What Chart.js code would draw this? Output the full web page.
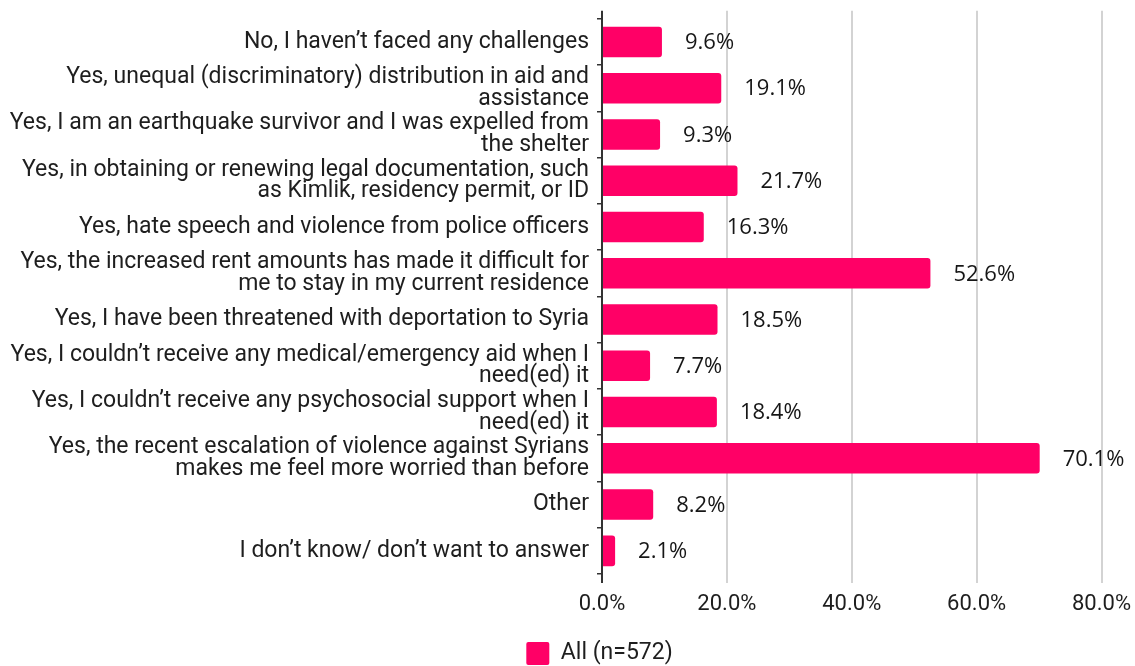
<!DOCTYPE html>
<html>
<head>
<meta charset="utf-8">
<script src="https://cdn.jsdelivr.net/npm/chart.js@4/dist/chart.umd.min.js"></script>
<style>
  html, body { margin: 0; padding: 0; background: #ffffff; }
  #wrap { width: 1135px; height: 666px; position: relative; }
</style>
</head>
<body>
<div id="wrap"><canvas id="chart" width="1135" height="666"></canvas></div>
<script>
// Survey answers (multi-line where the label wraps)
const categories = [
  "No, I haven\u2019t faced any challenges",
  ["Yes, unequal (discriminatory) distribution in aid and", "assistance"],
  ["Yes, I am an earthquake survivor and I was expelled from", "the shelter"],
  ["Yes, in obtaining or renewing legal documentation, such", "as Kimlik, residency permit, or ID"],
  "Yes, hate speech and violence from police officers",
  ["Yes, the increased rent amounts has made it difficult for", "me to stay in my current residence"],
  "Yes, I have been threatened with deportation to Syria",
  ["Yes, I couldn\u2019t receive any medical/emergency aid when I", "need(ed) it"],
  ["Yes, I couldn\u2019t receive any psychosocial support when I", "need(ed) it"],
  ["Yes, the recent escalation of violence against Syrians", "makes me feel more worried than before"],
  "Other",
  "I don\u2019t know/ don\u2019t want to answer"
];

// Share of respondents, percent
const allValues = [9.6, 19.1, 9.3, 21.7, 16.3, 52.6, 18.5, 7.7, 18.4, 70.1, 8.2, 2.1];

const seriesName = "All (n=572)";
const xTicks = [0, 20, 40, 60, 80];

const PINK = "#ff0066";
const GRID = "#d3d3d3";
const AXIS = "#333333";
const TEXT = "#1e1e1e";

// Value labels to the right of each bar
const valueLabels = {
  id: "valueLabels",
  afterDatasetsDraw(chart) {
    const { ctx } = chart;
    const meta = chart.getDatasetMeta(0);
    ctx.save();
    ctx.font = "22px 'Open Sans'";
    ctx.fillStyle = "#161616";
    ctx.textAlign = "left";
    ctx.textBaseline = "middle";
    meta.data.forEach((bar, i) => {
      ctx.fillText(allValues[i].toFixed(1) + "%", bar.x + 23, bar.y + 1);
    });
    ctx.restore();
  }
};

// Legend sits centred under the value axis origin, close to the bottom edge
const legendShift = {
  id: "legendShift",
  afterLayout(chart) {
    const lg = chart.legend;
    if (lg) {
      lg.left += 33; lg.right += 33;
      lg.top += 9; lg.bottom += 9;
    }
  }
};

const gridColor = (c) => (c.tick && c.tick.value === 0 ? AXIS : GRID);

new Chart(document.getElementById("chart"), {
  type: "bar",
  data: {
    labels: categories,
    datasets: [{
      label: seriesName,
      data: allValues,
      backgroundColor: PINK,
      borderWidth: 0,
      borderRadius: 3,
      borderSkipped: "start",
      categoryPercentage: 1,
      barPercentage: 0.66
    }]
  },
  options: {
    indexAxis: "y",
    responsive: false,
    animation: false,
    devicePixelRatio: 1,
    layout: { padding: { top: 9, right: 2, left: 0, bottom: 0 } },
    scales: {
      x: {
        position: "bottom",
        min: 0,
        max: 80,
        afterBuildTicks: (s) => { s.ticks = xTicks.map(v => ({ value: v })); },
        afterFit: (s) => { s.height = 57; s.paddingRight = 33.5; },
        ticks: {
          callback: (v) => v.toFixed(1) + "%",
          color: TEXT,
          font: { family: "Roboto", size: 22 },
          padding: 8
        },
        grid: { color: gridColor, lineWidth: 2, tickLength: 9, tickColor: gridColor },
        border: { display: false }
      },
      xTop: {
        axis: "x",
        position: "top",
        min: 0,
        max: 80,
        afterBuildTicks: (s) => { s.ticks = xTicks.map(v => ({ value: v })); },
        ticks: { display: false },
        grid: { drawOnChartArea: false, color: gridColor, lineWidth: 2, tickLength: 8, tickColor: gridColor },
        border: { display: false }
      },
      y: {
        afterFit: (s) => { s.width = 602; },
        ticks: {
          color: TEXT,
          font: { family: "Roboto", size: 23, lineHeight: 0.94 },
          padding: 8,
          autoSkip: false
        },
        grid: { offset: true, drawOnChartArea: false, color: AXIS, lineWidth: 1.5, tickLength: 5 },
        border: { display: true, color: AXIS, width: 2 }
      }
    },
    plugins: {
      legend: {
        position: "bottom",
        labels: {
          color: TEXT,
          font: { family: "Roboto", size: 23 },
          boxWidth: 23,
          boxHeight: 23,
          padding: 2,
          useBorderRadius: true,
          borderRadius: 2
        }
      },
      tooltip: { enabled: false }
    }
  },
  plugins: [valueLabels, legendShift]
});
</script>
</body>
</html>
